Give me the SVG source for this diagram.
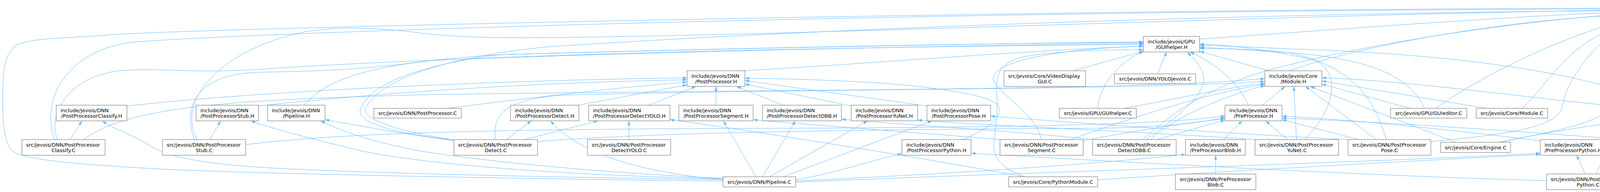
<svg xmlns="http://www.w3.org/2000/svg" width="6685" height="491" viewBox="0 0 6685 491">
<defs>
<style>
.edges path{fill:none;stroke:#63b8ff;stroke-width:1;marker-end:url(#ah)}
.node rect{fill:#ffffff;stroke:#666666;stroke-width:1}
.node.cur rect{fill:#999999}
.node text{font-family:"DejaVu Sans","Liberation Sans",sans-serif;font-size:13px;fill:#000000}
.l{text-anchor:start}
.c{text-anchor:middle}
</style>
<marker id="ah" viewBox="0 0 11 8" refX="11" refY="4" markerWidth="11" markerHeight="8" markerUnits="userSpaceOnUse" orient="auto"><path d="M0,0.5L11,4L0,7.5z" fill="#63b8ff"/></marker>
</defs>
<rect width="6685" height="491" fill="#ffffff"/>
<g id="edges" class="edges">
<path d="M3071,100 C3500,70 3950,35 4205,30"/>
<path d="M4502,100 C4460,80 4380,60 4340,45"/>
<path d="M4663,93 C4580,60 4450,42 4352,42"/>
<path d="M4877,100 C4760,60 4500,40 4352,39"/>
<path d="M5091,100 C4950,55 4600,37 4352,36"/>
<path d="M5326,100 C5150,50 4700,34 4352,33"/>
<path d="M5591,100 C5350,45 4800,31 4352,30"/>
<path d="M5840,100 C5550,42 4900,29 4352,28"/>
<path d="M6044,100 C5750,40 5000,27 4352,26"/>
<path d="M6297,100 C5950,38 5100,25 4352,24"/>
<path d="M6539,100 C6200,36 5200,23 4352,22"/>
<path d="M3300,181 C3500,110 3900,45 4205,36"/>
<path d="M3248,181 L3071,131"/>
<path d="M1900,181 C2200,165 2600,130 2927,118"/>
<path d="M2747,181 L2927,131"/>
<path d="M2963,189 L2987,133"/>
<path d="M325,271 C700,230 1300,205 1759,199"/>
<path d="M661,271 C900,245 1300,212 1759,204"/>
<path d="M1145,277 C1400,245 1600,222 1759,210"/>
<path d="M1480,269 L1759,217"/>
<path d="M1661,269 L1782,221"/>
<path d="M1833,269 L1833,221"/>
<path d="M2005,269 L1885,221"/>
<path d="M2179,271 L1907,215"/>
<path d="M2373,271 L1907,206"/>
<path d="M778,269 C840,200 950,160 1278,140 C1800,125 2500,110 2927,109"/>
<path d="M2810,277 C2815,220 2860,160 2927,132"/>
<path d="M2877,277 C3000,255 3150,222 3238,213"/>
<path d="M3232,269 L3290,221"/>
<path d="M3196,269 C3170,210 3110,160 3046,133"/>
<path d="M3675,277 C3800,190 4000,90 4205,39"/>
<path d="M3609,277 L3384,215"/>
<path d="M3647,277 C3610,200 3520,150 3300,135 C3200,128 3120,123 3071,121"/>
<path d="M3805,277 L3384,207"/>
<path d="M3896,277 C3980,200 4000,110 4205,41"/>
<path d="M4240,282 C3900,250 3600,205 3384,199"/>
<path d="M4360,269 C4340,180 4300,100 4292,45"/>
<path d="M4254,269 C4100,200 3800,140 3300,125 C3200,120 3120,117 3071,116"/>
<path d="M179,357 L210,309"/>
<path d="M140,357 C100,250 180,120 351,107 C700,80 2500,25 4205,23"/>
<path d="M147,357 C120,290 180,190 316,180 C420,173 500,190 700,175 C1200,140 2500,115 2927,111"/>
<path d="M214,357 C330,270 600,255 1100,242 C2000,228 2900,232 3238,201"/>
<path d="M537,357 L565,309"/>
<path d="M505,357 C450,260 560,130 772,83 C880,62 1000,75 1100,87 C1200,97 1300,98 1500,95 C2200,85 3400,35 4205,25"/>
<path d="M498,357 C470,290 490,200 631,187 C700,180 850,190 1100,155 C1600,130 2500,116 2927,114"/>
<path d="M629,370 C900,335 1400,330 2000,328 C2600,326 3000,318 3136,296"/>
<path d="M1296,357 L1360,309"/>
<path d="M1342,357 L1531,309"/>
<path d="M1163,360 C1050,345 920,322 832,306"/>
<path d="M1376,362 C1700,335 2400,330 2800,328 C3000,326 3080,312 3136,300"/>
<path d="M1163,358 C1000,340 900,310 926,273 C950,220 1050,170 1278,140 C1800,125 2500,112 2927,107"/>
<path d="M1165,358 C1010,335 910,300 940,270 C970,215 1100,150 1400,120 C2300,60 3500,30 4205,27"/>
<path d="M1268,357 C1262,300 1280,255 1440,243 C2200,225 2900,230 3238,208"/>
<path d="M1610,357 L1610,309"/>
<path d="M2465,357 C2530,330 2565,300 2557,275 C2548,250 2470,232 2280,214 C2150,205 2000,201 1907,200"/>
<path d="M2562,357 C2300,335 2050,318 1928,306"/>
<path d="M2740,357 C2900,300 3100,235 3238,216"/>
<path d="M2773,360 C2900,335 3050,312 3136,304"/>
<path d="M2666,357 C2650,290 2570,250 2545,210 C2520,160 2700,125 2927,118"/>
<path d="M2799,357 C2600,335 2300,318 2154,305"/>
<path d="M2935,357 C3010,300 3095,240 3080,190 C3070,160 3050,145 3040,133"/>
<path d="M2947,357 C3000,300 3150,240 3238,219"/>
<path d="M2961,357 L3136,307"/>
<path d="M2926,357 C3000,290 3080,230 3238,182 C3500,110 3900,50 4205,33"/>
<path d="M3133,357 L3180,309"/>
<path d="M3215,357 C2900,335 2500,320 2349,307"/>
<path d="M3296,357 L3240,309"/>
<path d="M3319,357 L3312,221"/>
<path d="M3339,357 C3420,280 3440,170 3350,150 C3260,130 3150,114 3071,113"/>
<path d="M3455,357 C3100,340 2700,310 2536,297"/>
<path d="M3524,357 L3342,221"/>
<path d="M3479,357 L3282,306"/>
<path d="M3549,357 C3520,260 3470,170 3300,135 C3200,124 3120,124 3071,124"/>
<path d="M3663,362 C3900,340 3990,320 4000,270 C4010,200 4100,80 4205,43"/>
<path d="M3840,364 C4000,330 4150,310 4170,220 C4190,140 4240,90 4266,45"/>
<path d="M3728,364 L3354,221"/>
<path d="M3837,364 C3950,340 4100,315 4240,302"/>
<path d="M3943,360 C3700,330 3450,305 3282,297"/>
<path d="M4245,364 C3900,335 3500,310 3282,302"/>
<path d="M4342,364 L4325,309"/>
<path d="M1851,463 C1300,457 700,445 421,433 C200,420 60,410 30,385 C8,360 7,300 7,260 C7,180 10,140 42,115 C90,95 180,98 267,90 C500,70 3000,20 4205,21"/>
<path d="M1851,459 C1500,455 1000,445 701,430 C520,420 420,400 380,370 C330,340 290,330 262,309"/>
<path d="M1851,457 C1500,450 1100,425 912,383 C800,355 700,330 642,309"/>
<path d="M1851,456 C1600,445 1300,420 1100,390 C980,370 880,340 821,309"/>
<path d="M1851,460 C1650,440 1490,400 1409,309"/>
<path d="M1935,452 L1852,309"/>
<path d="M1952,452 L2036,309"/>
<path d="M1970,452 L2221,309"/>
<path d="M2005,452 L2386,309"/>
<path d="M2037,460 C2150,440 2230,410 2309,393"/>
<path d="M2037,463 C2300,450 2700,430 3035,395"/>
<path d="M2037,466 C2500,445 3400,420 3943,392"/>
<path d="M2625,452 C2560,430 2540,400 2545,360 C2550,320 2555,280 2552,240 C2548,190 2560,160 2620,145 C2720,128 2850,127 2927,127"/>
<path d="M2810,460 C3100,440 3600,412 3943,395"/>
<path d="M2621,452 C2400,410 1900,330 1715,306"/>
<path d="M3112,445 L3112,397"/>
<path d="M3959,462 C3500,450 2800,410 2486,392"/>
<path d="M4058,445 L4036,397"/>
<path d="M4096,445 C4150,400 4240,350 4280,309"/>
<path d="M4086,445 C4150,300 4230,150 4270,45"/>
<path d="M4328,452 L4111,395"/>
<path d="M4430,452 C4500,400 4500,300 4440,220 C4380,150 4320,90 4305,45"/>
<path d="M4460,452 C4500,420 4500,360 4460,330 C4430,310 4410,305 4387,303"/>
<path d="M4610,445 C4520,300 4400,120 4318,45"/>
<path d="M4600,445 C4560,380 4480,320 4387,300"/>
<path d="M4516,450 C4400,430 4250,410 4111,396"/>
</g>
<g id="node-engine-h" class="node cur"><rect x="4205" y="5" width="147" height="40"/><text class="l" x="4216" y="22.5">include/jevois/Core</text><text class="c" x="4278.5" y="37">/Engine.H</text></g>
<g id="node-guihelper-h" class="node"><rect x="2927" y="93" width="144" height="40"/><text class="l" x="2938" y="110.5">include/jevois/GPU</text><text class="c" x="2999" y="125">/GUIhelper.H</text></g>
<g id="node-jevois-daemon-c" class="node"><rect x="4443" y="100" width="191" height="26"/><text class="c" x="4538.5" y="117.7">src/Apps/jevois-daemon.C</text></g>
<g id="node-component-c" class="node"><rect x="4659" y="93" width="163" height="40"/><text class="l" x="4670" y="110.5">src/jevois/Component</text><text class="c" x="4740.5" y="125">/Component.C</text></g>
<g id="node-gadget-c" class="node"><rect x="4845" y="100" width="184" height="26"/><text class="c" x="4937" y="117.7">src/jevois/Core/Gadget.C</text></g>
<g id="node-icm20948-c" class="node"><rect x="5053" y="100" width="200" height="26"/><text class="c" x="5153" y="117.7">src/jevois/Core/ICM20948.C</text></g>
<g id="node-pythonparameter-c" class="node"><rect x="5277" y="100" width="246" height="26"/><text class="c" x="5400" y="117.7">src/jevois/Core/PythonParameter.C</text></g>
<g id="node-pythonwrapper-c" class="node"><rect x="5547" y="100" width="234" height="26"/><text class="c" x="5664" y="117.7">src/jevois/Core/PythonWrapper.C</text></g>
<g id="node-serial-c" class="node"><rect x="5806" y="100" width="172" height="26"/><text class="c" x="5892" y="117.7">src/jevois/Core/Serial.C</text></g>
<g id="node-networkhailo-c" class="node"><rect x="6003" y="100" width="224" height="26"/><text class="c" x="6115" y="117.7">src/jevois/DNN/NetworkHailo.C</text></g>
<g id="node-networkpython-c" class="node"><rect x="6250" y="100" width="235" height="26"/><text class="c" x="6367.5" y="117.7">src/jevois/DNN/NetworkPython.C</text></g>
<g id="node-log-c" class="node"><rect x="6509" y="100" width="171" height="26"/><text class="c" x="6594.5" y="117.7">src/jevois/Debug/Log.C</text></g>
<g id="node-postprocessor-h" class="node"><rect x="1759" y="181" width="148" height="40"/><text class="l" x="1770" y="198.5">include/jevois/DNN</text><text class="c" x="1833" y="213">/PostProcessor.H</text></g>
<g id="node-videodisplaygui-c" class="node"><rect x="2570" y="181" width="209" height="40"/><text class="l" x="2581" y="198.5">src/jevois/Core/VideoDisplay</text><text class="c" x="2674.5" y="213">GUI.C</text></g>
<g id="node-yolojevois-c" class="node"><rect x="2853" y="189" width="208" height="25"/><text class="c" x="2957" y="206.2">src/jevois/DNN/YOLOjevois.C</text></g>
<g id="node-module-h" class="node"><rect x="3238" y="181" width="146" height="40"/><text class="l" x="3249" y="198.5">include/jevois/Core</text><text class="c" x="3311" y="213">/Module.H</text></g>
<g id="node-ppclassify-h" class="node"><rect x="144" y="269" width="181" height="40"/><text class="l" x="155" y="286.5">include/jevois/DNN</text><text class="c" x="234.5" y="301">/PostProcessorClassify.H</text></g>
<g id="node-ppstub-h" class="node"><rect x="502" y="269" width="160" height="40"/><text class="l" x="513" y="286.5">include/jevois/DNN</text><text class="c" x="582" y="301">/PostProcessorStub.H</text></g>
<g id="node-pipeline-h" class="node"><rect x="685" y="269" width="147" height="40"/><text class="l" x="696" y="286.5">include/jevois/DNN</text><text class="c" x="758.5" y="301">/Pipeline.H</text></g>
<g id="node-postprocessor-c" class="node"><rect x="957" y="277" width="224" height="25"/><text class="c" x="1069" y="294.2">src/jevois/DNN/PostProcessor.C</text></g>
<g id="node-ppdetect-h" class="node"><rect x="1307" y="269" width="175" height="40"/><text class="l" x="1318" y="286.5">include/jevois/DNN</text><text class="c" x="1394.5" y="301">/PostProcessorDetect.H</text></g>
<g id="node-ppdetectyolo-h" class="node"><rect x="1507" y="269" width="208" height="40"/><text class="l" x="1518" y="286.5">include/jevois/DNN</text><text class="c" x="1611" y="301">/PostProcessorDetectYOLO.H</text></g>
<g id="node-ppsegment-h" class="node"><rect x="1738" y="269" width="190" height="40"/><text class="l" x="1749" y="286.5">include/jevois/DNN</text><text class="c" x="1833" y="301">/PostProcessorSegment.H</text></g>
<g id="node-ppdetectobb-h" class="node"><rect x="1952" y="269" width="202" height="40"/><text class="l" x="1963" y="286.5">include/jevois/DNN</text><text class="c" x="2053" y="301">/PostProcessorDetectOBB.H</text></g>
<g id="node-ppyunet-h" class="node"><rect x="2179" y="269" width="170" height="40"/><text class="l" x="2190" y="286.5">include/jevois/DNN</text><text class="c" x="2264" y="301">/PostProcessorYuNet.H</text></g>
<g id="node-pppose-h" class="node"><rect x="2373" y="269" width="163" height="40"/><text class="l" x="2384" y="286.5">include/jevois/DNN</text><text class="c" x="2454.5" y="301">/PostProcessorPose.H</text></g>
<g id="node-guihelper-c" class="node"><rect x="2712" y="277" width="197" height="25"/><text class="c" x="2810.5" y="294.2">src/jevois/GPU/GUIhelper.C</text></g>
<g id="node-preprocessor-h" class="node"><rect x="3136" y="269" width="146" height="40"/><text class="l" x="3147" y="286.5">include/jevois/DNN</text><text class="c" x="3209" y="301">/PreProcessor.H</text></g>
<g id="node-guieditor-c" class="node"><rect x="3560" y="277" width="195" height="25"/><text class="c" x="3657.5" y="294.2">src/jevois/GPU/GUIeditor.C</text></g>
<g id="node-module-c" class="node"><rect x="3779" y="277" width="183" height="25"/><text class="c" x="3870.5" y="294.2">src/jevois/Core/Module.C</text></g>
<g id="node-pythonmodule-h" class="node"><rect x="4240" y="269" width="147" height="40"/><text class="l" x="4251" y="286.5">include/jevois/Core</text><text class="c" x="4313.5" y="301">/PythonModule.H</text></g>
<g id="node-ppclassify-c" class="node"><rect x="56" y="357" width="213" height="40"/><text class="l" x="67" y="374.5">src/jevois/DNN/PostProcessor</text><text class="c" x="162.5" y="389">Classify.C</text></g>
<g id="node-ppstub-c" class="node"><rect x="416" y="357" width="213" height="40"/><text class="l" x="427" y="374.5">src/jevois/DNN/PostProcessor</text><text class="c" x="522.5" y="389">Stub.C</text></g>
<g id="node-ppdetect-c" class="node"><rect x="1162" y="357" width="214" height="40"/><text class="l" x="1173" y="374.5">src/jevois/DNN/PostProcessor</text><text class="c" x="1269" y="389">Detect.C</text></g>
<g id="node-ppdetectyolo-c" class="node"><rect x="1504" y="357" width="213" height="40"/><text class="l" x="1515" y="374.5">src/jevois/DNN/PostProcessor</text><text class="c" x="1610.5" y="389">DetectYOLO.C</text></g>
<g id="node-pppython-h" class="node"><rect x="2309" y="357" width="177" height="40"/><text class="l" x="2320" y="374.5">include/jevois/DNN</text><text class="c" x="2397.5" y="389">/PostProcessorPython.H</text></g>
<g id="node-ppsegment-c" class="node"><rect x="2560" y="357" width="213" height="40"/><text class="l" x="2571" y="374.5">src/jevois/DNN/PostProcessor</text><text class="c" x="2666.5" y="389">Segment.C</text></g>
<g id="node-ppdetectobb-c" class="node"><rect x="2797" y="357" width="214" height="40"/><text class="l" x="2808" y="374.5">src/jevois/DNN/PostProcessor</text><text class="c" x="2904" y="389">DetectOBB.C</text></g>
<g id="node-preblob-h" class="node"><rect x="3035" y="357" width="153" height="40"/><text class="l" x="3046" y="374.5">include/jevois/DNN</text><text class="c" x="3111.5" y="389">/PreProcessorBlob.H</text></g>
<g id="node-ppyunet-c" class="node"><rect x="3213" y="357" width="214" height="40"/><text class="l" x="3224" y="374.5">src/jevois/DNN/PostProcessor</text><text class="c" x="3320" y="389">YuNet.C</text></g>
<g id="node-pppose-c" class="node"><rect x="3451" y="357" width="212" height="40"/><text class="l" x="3462" y="374.5">src/jevois/DNN/PostProcessor</text><text class="c" x="3557" y="389">Pose.C</text></g>
<g id="node-engine-c" class="node"><rect x="3688" y="364" width="179" height="26"/><text class="c" x="3777.5" y="381.7">src/jevois/Core/Engine.C</text></g>
<g id="node-prepython-h" class="node"><rect x="3943" y="357" width="168" height="40"/><text class="l" x="3954" y="374.5">include/jevois/DNN</text><text class="c" x="4027" y="389">/PreProcessorPython.H</text></g>
<g id="node-preprocessor-c" class="node"><rect x="4238" y="364" width="218" height="26"/><text class="c" x="4347" y="381.7">src/jevois/DNN/PreProcessor.C</text></g>
<g id="node-pipeline-c" class="node"><rect x="1851" y="452" width="186" height="26"/><text class="c" x="1944" y="469.7">src/jevois/DNN/Pipeline.C</text></g>
<g id="node-pythonmodule-c" class="node"><rect x="2582" y="452" width="228" height="26"/><text class="c" x="2696" y="469.7">src/jevois/Core/PythonModule.C</text></g>
<g id="node-preblob-c" class="node"><rect x="3009" y="445" width="206" height="40"/><text class="l" x="3020" y="462.5">src/jevois/DNN/PreProcessor</text><text class="c" x="3112" y="477">Blob.C</text></g>
<g id="node-pppython-c" class="node"><rect x="3959" y="445" width="213" height="40"/><text class="l" x="3970" y="462.5">src/jevois/DNN/PostProcessor</text><text class="c" x="4065.5" y="477">Python.C</text></g>
<g id="node-pythonsupport-c" class="node"><rect x="4262" y="452" width="231" height="26"/><text class="c" x="4377.5" y="469.7">src/jevois/Core/PythonSupport.C</text></g>
<g id="node-prepython-c" class="node"><rect x="4516" y="445" width="207" height="40"/><text class="l" x="4527" y="462.5">src/jevois/DNN/PreProcessor</text><text class="c" x="4619.5" y="477">Python.C</text></g>
</svg>
